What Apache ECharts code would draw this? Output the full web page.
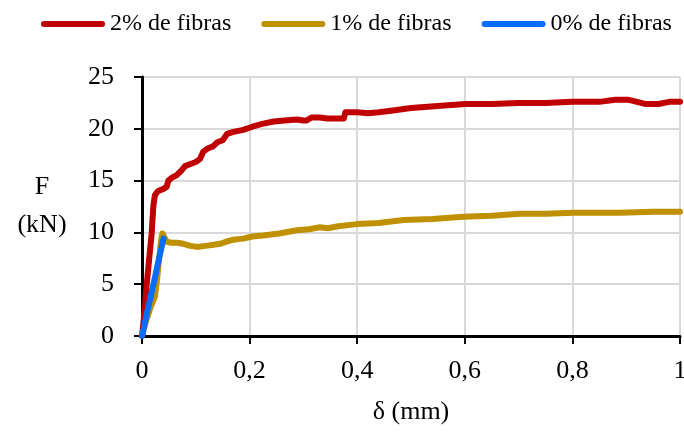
<!DOCTYPE html>
<html>
<head>
<meta charset="utf-8">
<script src="https://cdn.jsdelivr.net/npm/echarts@6/dist/echarts.min.js"></script>
<style>html,body{margin:0;padding:0;background:#fff}#c{width:684px;height:432px}</style>
</head>
<body>
<div id="c"></div>
<script>
const seriesNames = ['2% de fibras', '1% de fibras', '0% de fibras'];
const xTicks = ['0', '0,2', '0,4', '0,6', '0,8', '1'];
const yTicks = [0, 5, 10, 15, 20, 25];

const fibras2 = [[0,0],[0.004,2.0],[0.009,5.1],[0.014,7.8],[0.018,9.9],[0.021,12.5],[0.024,13.6],[0.030,14.0],[0.040,14.2],[0.046,14.4],[0.049,15.0],[0.056,15.3],[0.064,15.5],[0.072,15.9],[0.080,16.4],[0.090,16.6],[0.100,16.8],[0.108,17.1],[0.114,17.8],[0.122,18.1],[0.132,18.3],[0.140,18.7],[0.150,18.9],[0.158,19.5],[0.170,19.7],[0.188,19.9],[0.205,20.2],[0.225,20.5],[0.245,20.7],[0.265,20.8],[0.288,20.9],[0.300,20.8],[0.306,20.8],[0.315,21.1],[0.330,21.1],[0.345,21.0],[0.375,21.0],[0.378,21.6],[0.400,21.6],[0.420,21.5],[0.440,21.6],[0.470,21.8],[0.500,22.0],[0.550,22.2],[0.600,22.4],[0.650,22.4],[0.700,22.5],[0.750,22.5],[0.800,22.6],[0.850,22.6],[0.880,22.8],[0.905,22.8],[0.920,22.6],[0.935,22.4],[0.960,22.4],[0.980,22.6],[1.0,22.6]];
const fibras1 = [[0,0],[0.008,1.5],[0.016,2.8],[0.024,3.8],[0.028,5.5],[0.033,8.0],[0.036,9.4],[0.038,9.9],[0.042,9.5],[0.046,9.1],[0.055,9.0],[0.065,9.0],[0.077,8.9],[0.090,8.7],[0.102,8.6],[0.118,8.7],[0.133,8.8],[0.145,8.9],[0.157,9.1],[0.170,9.3],[0.188,9.4],[0.205,9.6],[0.225,9.7],[0.255,9.9],[0.288,10.2],[0.310,10.3],[0.331,10.5],[0.345,10.4],[0.365,10.6],[0.399,10.8],[0.44,10.9],[0.486,11.2],[0.54,11.3],[0.597,11.5],[0.65,11.6],[0.703,11.8],[0.75,11.8],[0.802,11.9],[0.85,11.9],[0.888,11.9],[0.95,12.0],[1.0,12.0]];
const fibras0 = [[0,0],[0.010,2.4],[0.020,4.7],[0.030,7.1],[0.040,9.4]];

const colors = ['#C00000', '#BF9000', '#0A6CFF'];
const FONT = 'Liberation Serif';
const chart = echarts.init(document.getElementById('c'));
const capsule = 'path://M3 0H61A3 3 0 0 1 61 6H3A3 3 0 0 1 3 0Z';

const mk = (name, data, color) => ({
  name, type: 'line', data, showSymbol: false, symbol: 'none', smooth: false,
  lineStyle: { color, width: 6, cap: 'round', join: 'round' }, itemStyle: { color },
  animation: false
});

chart.setOption({
  animation: false,
  textStyle: { fontFamily: FONT },
  legend: {
    left: 36, top: 7, itemWidth: 64, itemHeight: 6, itemGap: 30, icon: capsule,
    textStyle: { fontFamily: FONT, fontSize: 24, color: '#000' },
    data: seriesNames
  },
  grid: { left: 142, right: 4, top: 77, bottom: 96, outerBoundsMode: 'none', containLabel: false },
  xAxis: {
    type: 'value', min: 0, max: 1, interval: 0.2,
    name: 'δ (mm)', nameLocation: 'middle', nameGap: 63,
    nameTextStyle: { fontFamily: FONT, fontSize: 26, color: '#000' },
    axisLine: { lineStyle: { color: '#000', width: 3 } },
    axisTick: { show: true, inside: false, length: 8, lineStyle: { color: '#000', width: 2 } },
    axisLabel: { fontFamily: FONT, fontSize: 26, color: '#000', margin: 22,
      formatter: v => xTicks[Math.round(v / 0.2)] },
    splitLine: { show: true, lineStyle: { color: '#D9D9D9', width: 2, type: 'solid' } }
  },
  yAxis: {
    type: 'value', min: 0, max: 25, interval: 5,
    name: 'F\n(kN)', nameLocation: 'middle', nameGap: 100, nameRotate: 0,
    nameTextStyle: { fontFamily: FONT, fontSize: 26, color: '#000', align: 'center', lineHeight: 38, padding: [4, 0, 0, 0] },
    axisLine: { show: true, lineStyle: { color: '#000', width: 3 } },
    axisTick: { show: true, inside: false, length: 8, lineStyle: { color: '#000', width: 2 } },
    axisLabel: { fontFamily: FONT, fontSize: 26, color: '#000', margin: 28,
      formatter: v => String(yTicks[Math.round(v / 5)]) },
    splitLine: { show: true, lineStyle: { color: '#D9D9D9', width: 2, type: 'solid' } }
  },
  series: [
    mk(seriesNames[0], fibras2, colors[0]),
    mk(seriesNames[1], fibras1, colors[1]),
    mk(seriesNames[2], fibras0, colors[2])
  ]
});
</script>
</body>
</html>
